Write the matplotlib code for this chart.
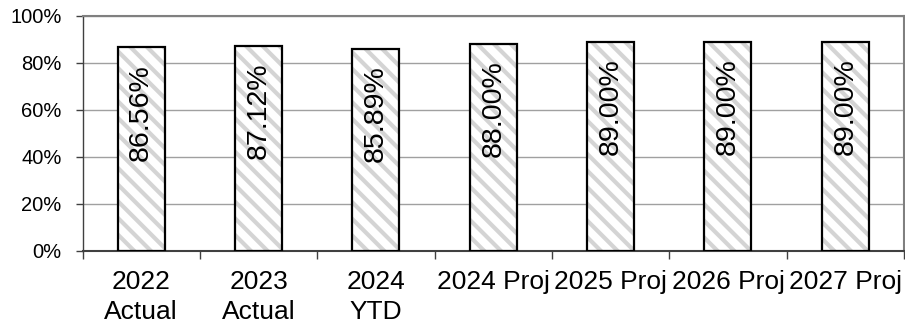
import matplotlib
matplotlib.use("Agg")
import matplotlib.pyplot as plt
import numpy as np

categories = ["2022\nActual", "2023\nActual", "2024\nYTD", "2024 Proj", "2025 Proj", "2026 Proj", "2027 Proj"]
values = [86.56, 87.12, 85.89, 88.00, 89.00, 89.00, 89.00]
labels = ["86.56%", "87.12%", "85.89%", "88.00%", "89.00%", "89.00%", "89.00%"]
yticks = [0, 20, 40, 60, 80, 100]
ytick_labels = ["0%", "20%", "40%", "60%", "80%", "100%"]

plt.rcParams['font.family'] = ['Liberation Sans', 'DejaVu Sans']
plt.rcParams['hatch.linewidth'] = 3.0

fig = plt.figure(figsize=(9.05, 3.26), dpi=100)
ax = fig.add_axes([82.5/905, 1 - 251/326, (904 - 82.5)/905, (251 - 15.7)/326])

x = np.arange(len(categories))
# hatched fill layer
ax.bar(x, values, width=0.4, color='white', edgecolor='#d4d4d4', linewidth=0,
       hatch='\\\\', zorder=3)
# outline layer
ax.bar(x, values, width=0.4, fill=False, edgecolor='black', linewidth=1.6, zorder=4)

for xi, v, lab in zip(x, values, labels):
    ax.annotate(lab, xy=(xi, v), xytext=(0, -12), textcoords='offset points',
                rotation=90, ha='center', va='top', fontsize=20.5, color='black', zorder=5)

ax.set_xlim(-0.5, len(categories) - 0.5)
ax.set_ylim(0, 100)
ax.set_yticks(yticks)
ax.set_yticklabels(ytick_labels, fontsize=14.5)
ax.yaxis.grid(True, color='#a0a0a0', linewidth=1.0, zorder=0)
ax.set_axisbelow(True)

# x ticks at category boundaries, labels at centers
ax.set_xticks(np.arange(-0.5, len(categories) + 0.5, 1.0))
ax.set_xticklabels([])
ax.set_xticks(x, minor=True)
ax.set_xticklabels(categories, minor=True, fontsize=19, linespacing=1.3)
ax.tick_params(axis='x', which='minor', length=0, pad=14)
ax.tick_params(axis='x', which='major', length=6, width=1.0, color='#404040', direction='out')
ax.tick_params(axis='y', length=5, width=1.0, color='#404040', direction='out', pad=10)

for s in ['top', 'right']:
    ax.spines[s].set_color('#808080')
    ax.spines[s].set_linewidth(1.5)
ax.spines['left'].set_color('#404040')
ax.spines['bottom'].set_color('#404040')
ax.spines['left'].set_linewidth(1.0)
ax.spines['bottom'].set_linewidth(1.5)

fig.savefig("out.png", dpi=100)
